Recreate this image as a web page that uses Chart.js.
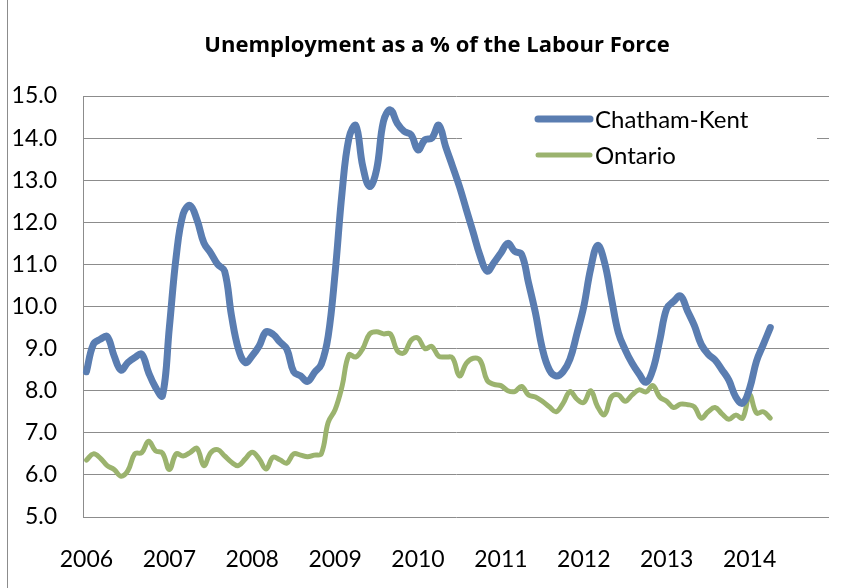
<!DOCTYPE html>
<html>
<head>
<meta charset="utf-8">
<script src="https://cdn.jsdelivr.net/npm/chart.js@4.4.1/dist/chart.umd.min.js"></script>
<style>
    html, body { margin: 0; padding: 0; background: #FFF; }
    #box { width: 856px; height: 588px; }
</style>
</head>
<body>
<div id="box"><canvas id="grafico" width="856" height="588"></canvas></div>
<script>
// anos do eixo x (dados mensais, jan/2006 a abr/2014)
var anos = [2006, 2007, 2008, 2009, 2010, 2011, 2012, 2013, 2014];

// taxa de desemprego (%)
var chathamKent = [
    8.45, 9.1, 9.22, 9.29, 8.83, 8.49, 8.67, 8.79, 8.87, 8.43, 8.08, 7.88,
    9.5, 11.2, 12.2, 12.4, 12.06, 11.51, 11.27, 11.0, 10.84, 9.78, 8.99, 8.67,
    8.83, 9.06, 9.4, 9.34, 9.16, 8.99, 8.45, 8.35, 8.22, 8.43, 8.63, 9.3,
    10.8, 12.7, 14.0, 14.3, 13.33, 12.85, 13.25, 14.4, 14.67, 14.35, 14.16, 14.08,
    13.72, 13.96, 14.0, 14.31, 13.8, 13.33, 12.85, 12.3, 11.75, 11.2, 10.84, 11.04,
    11.27, 11.5, 11.31, 11.24, 10.56, 9.85, 9.0, 8.5, 8.35, 8.45, 8.75, 9.35,
    10.0, 10.9, 11.45, 11.05, 10.2, 9.38, 8.97, 8.65, 8.4, 8.2, 8.5, 9.2,
    9.95, 10.12, 10.25, 9.9, 9.55, 9.1, 8.87, 8.73, 8.5, 8.25, 7.85, 7.7,
    8.05, 8.7, 9.1, 9.5
];
var ontario = [
    6.35, 6.5, 6.4, 6.22, 6.13, 5.97, 6.1, 6.5, 6.53, 6.8, 6.57, 6.52,
    6.13, 6.5, 6.45, 6.53, 6.63, 6.22, 6.53, 6.6, 6.45, 6.3, 6.22, 6.38,
    6.54, 6.38, 6.14, 6.42, 6.36, 6.28, 6.5, 6.47, 6.43, 6.47, 6.5, 7.25,
    7.55, 8.1, 8.85, 8.8, 9.0, 9.35, 9.4, 9.35, 9.35, 8.95, 8.9, 9.2,
    9.25, 9.0, 9.05, 8.82, 8.8, 8.78, 8.35, 8.65, 8.77, 8.72, 8.25, 8.15,
    8.12, 8.0, 7.98, 8.1, 7.9, 7.85, 7.75, 7.62, 7.5, 7.7, 7.98, 7.8,
    7.72, 8.0, 7.62, 7.43, 7.85, 7.9, 7.75, 7.9, 8.02, 7.97, 8.12, 7.85,
    7.75, 7.6, 7.68, 7.67, 7.62, 7.35, 7.5, 7.6, 7.45, 7.32, 7.42, 7.35,
    7.9, 7.47, 7.5, 7.35
];

var titulo = 'Unemployment as a % of the Labour Force';
var nomesSeries = ['Chatham-Kent', 'Ontario'];
var cores = ['#5A7DB1', '#9BB36E'];

// um rótulo por mês, o ano inteiro no eixo
var labels = [];
for (var a = 0; a < anos.length; a++) {
    for (var m = 1; m <= 12; m++) {
        labels.push(anos[a] + '-' + (m < 10 ? '0' + m : m));
    }
}

var fonte = 'Lato, "Open Sans", sans-serif';

// título, legenda dentro da área do gráfico e borda esquerda
var extras = {
    id: 'extras',
    afterDatasetsDraw: function (chart) {
        var ctx = chart.ctx;
        ctx.save();

        ctx.fillStyle = '#000';
        ctx.font = 'bold 22px "Open Sans", sans-serif';
        ctx.textAlign = 'center';
        ctx.textBaseline = 'middle';
        ctx.fillText(titulo, 437, 46);

        ctx.strokeStyle = '#8C8C8C';
        ctx.lineWidth = 1;
        ctx.beginPath();
        ctx.moveTo(7.5, 0);
        ctx.lineTo(7.5, 588);
        ctx.stroke();

        ctx.fillStyle = '#FFF';
        ctx.fillRect(462, 101, 355, 74);

        var ys = [119, 155];
        var larguras = [7, 5];
        ctx.lineCap = 'round';
        for (var i = 0; i < nomesSeries.length; i++) {
            ctx.strokeStyle = cores[i];
            ctx.lineWidth = larguras[i];
            ctx.beginPath();
            ctx.moveTo(538, ys[i]);
            ctx.lineTo(590, ys[i]);
            ctx.stroke();

            ctx.fillStyle = '#000';
            ctx.font = '24px ' + fonte;
            ctx.textAlign = 'left';
            ctx.fillText(nomesSeries[i], 595, ys[i] + 1);
        }
        ctx.restore();
    }
};

var dados = {
    labels: labels,
    datasets: [{
        label: nomesSeries[0],
        data: chathamKent,
        borderColor: cores[0],
        borderWidth: 7,
        pointRadius: 0,
        tension: 0.4,
        borderCapStyle: 'round',
        borderJoinStyle: 'round'
    }, {
        label: nomesSeries[1],
        data: ontario,
        borderColor: cores[1],
        borderWidth: 5,
        pointRadius: 0,
        tension: 0.4,
        borderCapStyle: 'round',
        borderJoinStyle: 'round'
    }]
};

const config = {
    type: 'line',
    data: dados,
    options: {
        responsive: false,
        animation: false,
        layout: {
            padding: { top: 96, right: 27, bottom: 0, left: 0 }
        },
        scales: {
            x: {
                offset: true,
                grid: { display: false },
                border: { display: false },
                afterFit: function (scale) { scale.height = 71; },
                ticks: {
                    autoSkip: false,
                    maxRotation: 0,
                    padding: 21,
                    color: '#000',
                    font: { family: fonte, size: 23 },
                    callback: function (value, index) {
                        return index % 12 === 0 ? this.getLabelForValue(value).slice(0, 4) : '';
                    }
                }
            },
            y: {
                min: 5,
                max: 15,
                afterFit: function (scale) { scale.width = 83; },
                grid: { color: '#8C8C8C', lineWidth: 1, drawTicks: false },
                border: { display: true, color: '#8C8C8C', width: 1 },
                ticks: {
                    stepSize: 1,
                    padding: 26,
                    color: '#000',
                    font: { family: fonte, size: 23 },
                    callback: function (value) { return value.toFixed(1); }
                }
            }
        },
        plugins: {
            legend: { display: false },
            title: { display: false },
            tooltip: { enabled: false }
        }
    },
    plugins: [extras]
};

let grafico = new Chart(document.getElementById('grafico'), config);
</script>
</body>
</html>
